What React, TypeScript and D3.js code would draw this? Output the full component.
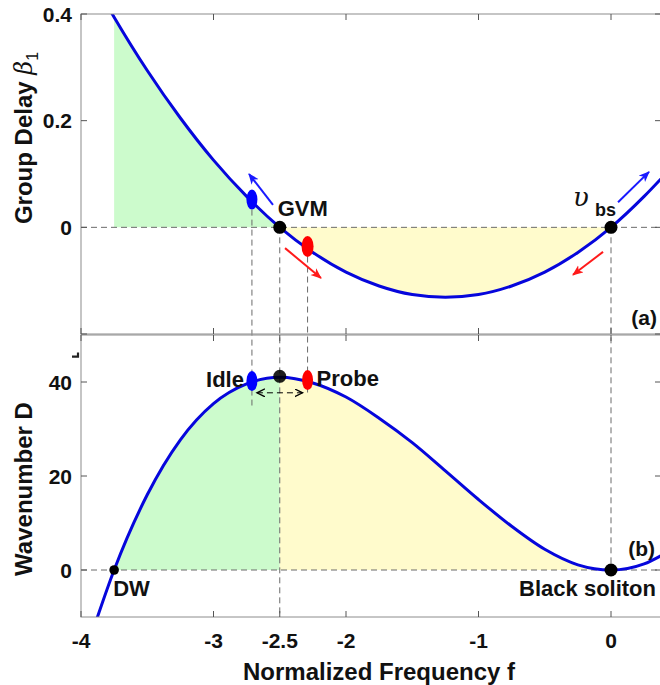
import React from 'react';
import * as d3 from 'd3';

// values
const freq = [-3.9, -3.75, -3.5, -3.25, -3.0, -2.75, -2.5, -2.25, -2.0, -1.75, -1.5, -1.25, -1.0, -0.75, -0.5, -0.25, 0, 0.25, 0.4];
const groupDelay = [0.459, 0.394, 0.294, 0.205, 0.126, 0.058, 0, -0.047, -0.084, -0.11, -0.126, -0.131, -0.126, -0.11, -0.084, -0.047, 0, 0.058, 0.097];
const wavenumber = [-12.0, 0, 16.0, 27.7, 35.4, 39.6, 41.0, 39.8, 36.8, 32.3, 27.1, 21.1, 15.0, 9.3, 4.4, 1.1, 0, 1.3, 3.4];

const xTicks = [-4, -3, -2.5, -2, -1, 0];
const xTickLabels = ['-4', '-3', '-2.5', '-2', '-1', '0'];
const delayTicks = [0, 0.2, 0.4];
const delayTickLabels = ['0', '0.2', '0.4'];
const waveTicks = [0, 20, 40];
const waveTickLabels = ['0', '20', '40'];

const idle = { f: -2.71, delay: 0.052, wave: 40.2 };
const probe = { f: -2.29, delay: -0.036, wave: 40.4 };
const gvm = { f: -2.5, delay: 0, wave: 41.2 };
const dw = { f: -3.75, wave: 0 };
const soliton = { f: 0, delay: 0, wave: 0 };

// arrows in panel (a): [f0, delay0, f1, delay1]
const blueArrows = [[-2.551, 0.042, -2.732, 0.1], [0.053, 0.047, 0.287, 0.104]];
const redArrows = [[-2.46, -0.039, -2.189, -0.095], [-0.06, -0.046, -0.287, -0.089]];

const W = 660;
const H = 685;
const left = 81;
const right = 661;
const topA = 14;
const botA = 334;
const topB = 335;
const botB = 617;

const BLUE = '#0606dc';
const GREEN = '#ccfbcc';
const YELLOW = '#fffbcc';
const AXIS = '#8c8c8c';
const DASH = '#6a6a6a';
const FONT = '"Liberation Sans", Arial, Helvetica, sans-serif';

export default function App() {
  const x = d3.scaleLinear().domain([-4, -4 + (right - left) / 132.5]).range([left, right]);
  const yA = d3.scaleLinear().domain([-0.2, 0.4]).range([botA, topA]);
  const yB = d3.scaleLinear().domain([-10, 50]).range([botB, topB]);

  const pts = freq.map((f, i) => ({ f, d: groupDelay[i], k: wavenumber[i] }));
  const greenPts = pts.filter(p => p.f >= -3.75 && p.f <= -2.5);
  const yellowPts = pts.filter(p => p.f >= -2.5 && p.f <= 0);

  const lineA = d3.line<any>().x(p => x(p.f)).y(p => yA(p.d)).curve(d3.curveMonotoneX);
  const lineB = d3.line<any>().x(p => x(p.f)).y(p => yB(p.k)).curve(d3.curveMonotoneX);
  const areaA = d3.area<any>().x(p => x(p.f)).y0(yA(0)).y1(p => yA(p.d)).curve(d3.curveMonotoneX);
  const areaB = d3.area<any>().x(p => x(p.f)).y0(yB(0)).y1(p => yB(p.k)).curve(d3.curveMonotoneX);

  const boxTicks = (y0: number, y1: number, yScale: any, yt: number[], xt: number[]) => (
    <g stroke="#555" strokeWidth={1}>
      {xt.map(t => (
        <g key={'x' + t}>
          <line x1={x(t)} x2={x(t)} y1={y1} y2={y1 - 6} />
          <line x1={x(t)} x2={x(t)} y1={y0} y2={y0 + 6} />
        </g>
      ))}
      {yt.map(t => (
        <g key={'y' + t}>
          <line x1={left} x2={left + 6} y1={yScale(t)} y2={yScale(t)} />
          <line x1={right} x2={right - 6} y1={yScale(t)} y2={yScale(t)} />
        </g>
      ))}
    </g>
  );

  const dashed = { stroke: DASH, strokeWidth: 1, strokeDasharray: '6,4', fill: 'none' };

  return (
    <svg width={W} height={H} style={{ position: 'absolute', left: 0, top: 0, background: '#fff' }} fontFamily={FONT}>
      <defs>
        <clipPath id="clipA"><rect x={left} y={topA} width={right - left} height={botA - topA} /></clipPath>
        <clipPath id="clipB"><rect x={left} y={topB} width={right - left} height={botB - topB} /></clipPath>
        <marker id="hb" markerUnits="userSpaceOnUse" markerWidth={12} markerHeight={10} refX={10} refY={4.5} orient="auto">
          <path d="M0,0 L11,4.5 L0,9 L3,4.5 Z" fill="#1a1aff" />
        </marker>
        <marker id="hr" markerUnits="userSpaceOnUse" markerWidth={12} markerHeight={10} refX={10} refY={4.5} orient="auto">
          <path d="M0,0 L11,4.5 L0,9 L3,4.5 Z" fill="#ff1a1a" />
        </marker>
        <marker id="hk" markerUnits="userSpaceOnUse" markerWidth={10} markerHeight={10} refX={8} refY={4} orient="auto-start-reverse">
          <path d="M0,0 L8,4 L0,8" fill="none" stroke="#000" strokeWidth={1.3} />
        </marker>
      </defs>

      {/* panel (a) */}
      <g clipPath="url(#clipA)">
        <path d={areaA(greenPts) || ''} fill={GREEN} />
        <path d={areaA(yellowPts) || ''} fill={YELLOW} />
        <line x1={left} x2={right} y1={yA(0)} y2={yA(0)} style={dashed} />
      </g>

      {/* panel (b) */}
      <g clipPath="url(#clipB)">
        <path d={areaB(greenPts) || ''} fill={GREEN} />
        <path d={areaB(yellowPts) || ''} fill={YELLOW} />
        <line x1={left} x2={right} y1={yB(0)} y2={yB(0)} style={dashed} />
      </g>

      {/* vertical guides across both panels */}
      <line x1={x(idle.f)} x2={x(idle.f)} y1={yA(idle.delay)} y2={yB(35)} style={dashed} />
      <line x1={x(probe.f)} x2={x(probe.f)} y1={yA(probe.delay)} y2={yB(37.7)} style={dashed} />
      <line x1={x(gvm.f)} x2={x(gvm.f)} y1={yA(0)} y2={yB(-10)} style={dashed} />
      <line x1={x(soliton.f)} x2={x(soliton.f)} y1={yA(0)} y2={yB(0)} style={dashed} />

      <g clipPath="url(#clipA)">
        <path d={lineA(pts) || ''} fill="none" stroke={BLUE} strokeWidth={3} />
      </g>
      <g clipPath="url(#clipB)">
        <path d={lineB(pts) || ''} fill="none" stroke={BLUE} strokeWidth={3} />
      </g>

      {/* boxes */}
      <rect x={left} y={topA} width={right - left} height={botA - topA} fill="none" stroke={AXIS} />
      <rect x={left} y={topB} width={right - left} height={botB - topB} fill="none" stroke={AXIS} />
      {boxTicks(topA, botA, yA, [-0.2, 0, 0.2, 0.4], [-4, -3, -2, -1, 0])}
      {boxTicks(topB, botB, yB, [0, 20, 40], xTicks)}

      {/* tick labels */}
      <g fontSize={21} fontWeight="bold" fill="#111">
        {xTicks.map((t, i) => (
          <text key={t} x={x(t)} y={648} textAnchor="middle">{xTickLabels[i]}</text>
        ))}
        {delayTicks.map((t, i) => (
          <text key={t} x={72} y={yA(t)} dy="0.36em" textAnchor="end">{delayTickLabels[i]}</text>
        ))}
        {waveTicks.map((t, i) => (
          <text key={t} x={72} y={yB(t)} dy="0.36em" textAnchor="end">{waveTickLabels[i]}</text>
        ))}
      </g>
      <path d={`M${left - 9},${yB(45.4)} L${left - 2},${yB(45.4)} M${left - 3},${yB(45.4) + 1} L${left - 3},${yB(45.4) - 4}`} stroke="#222" strokeWidth={2.2} fill="none" />

      {/* axis titles */}
      <text x={379} y={680} textAnchor="middle" fontSize={24} fontWeight="bold" fill="#111">Normalized Frequency f</text>
      <text transform="translate(32,138) rotate(-90)" textAnchor="middle" fontSize={24} fontWeight="bold" fill="#111">
        Group Delay{' '}
        <tspan fontFamily='"DejaVu Serif", serif' fontStyle="italic" fontWeight="normal">β</tspan>
        <tspan fontSize={16} fontWeight="normal" dy={6}>1</tspan>
      </text>
      <text transform="translate(32,489) rotate(-90)" textAnchor="middle" fontSize={24} fontWeight="bold" fill="#111">Wavenumber D</text>

      {/* arrows in (a) */}
      {blueArrows.map((a, i) => (
        <line key={'b' + i} x1={x(a[0])} y1={yA(a[1])} x2={x(a[2])} y2={yA(a[3])} stroke="#1a1aff" strokeWidth={2} markerEnd="url(#hb)" />
      ))}
      {redArrows.map((a, i) => (
        <line key={'r' + i} x1={x(a[0])} y1={yA(a[1])} x2={x(a[2])} y2={yA(a[3])} stroke="#ff1a1a" strokeWidth={2} markerEnd="url(#hr)" />
      ))}

      {/* markers in (a) */}
      <ellipse cx={x(idle.f)} cy={yA(idle.delay)} rx={5.5} ry={10} fill="#0000ff" />
      <ellipse cx={x(probe.f)} cy={yA(probe.delay)} rx={6} ry={10.5} fill="#ff0000" />
      <circle cx={x(gvm.f)} cy={yA(gvm.delay)} r={6.5} fill="#000" />
      <circle cx={x(soliton.f)} cy={yA(soliton.delay)} r={6.5} fill="#000" />

      {/* markers in (b) */}
      <line x1={x(idle.f) + 5} x2={x(probe.f) - 5} y1={yB(37.7)} y2={yB(37.7)} stroke="#000" strokeWidth={1} strokeDasharray="6,4" markerStart="url(#hk)" markerEnd="url(#hk)" />
      <ellipse cx={x(idle.f)} cy={yB(idle.wave)} rx={5.5} ry={10} fill="#0000ff" />
      <ellipse cx={x(probe.f)} cy={yB(probe.wave)} rx={5.5} ry={10} fill="#ff0000" />
      <circle cx={x(gvm.f)} cy={yB(gvm.wave)} r={6.5} fill="#000" fillOpacity={0.88} />
      <circle cx={x(dw.f)} cy={yB(dw.wave)} r={4.8} fill="#000" />
      <circle cx={x(soliton.f)} cy={yB(soliton.wave)} r={6.5} fill="#000" />

      {/* annotation texts */}
      <g fontWeight="bold" fontSize={22} fill="#111">
        <text x={x(gvm.f) - 2} y={yA(0) - 11}>GVM</text>
        <text x={x(idle.f) - 8} y={yB(idle.wave) + 6} textAnchor="end">Idle</text>
        <text x={x(probe.f) + 9} y={yB(probe.wave) + 6}>Probe</text>
        <text x={x(dw.f) - 1} y={yB(0) + 26}>DW</text>
        <text x={x(soliton.f) + 45} y={yB(0) + 26} textAnchor="end">Black soliton</text>
        <text x={657} y={325} textAnchor="end" fontSize={21}>(a)</text>
        <text x={655} y={556} textAnchor="end" fontSize={21}>(b)</text>
      </g>
      <text x={x(soliton.f) - 38} y={yA(0) - 21} fontFamily='"DejaVu Serif", serif' fontStyle="italic" fontSize={26} fill="#111">υ</text>
      <text x={x(soliton.f) - 16} y={yA(0) - 11} fontWeight="bold" fontSize={18} fill="#111">bs</text>
    </svg>
  );
}
